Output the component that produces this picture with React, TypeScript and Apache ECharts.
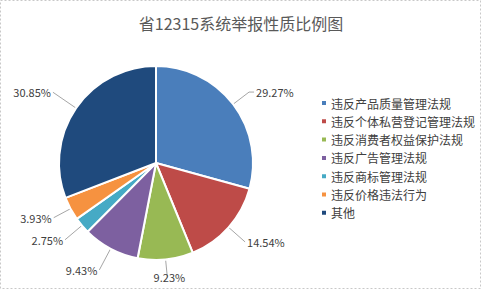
import React, { useEffect, useRef } from "react";
import * as echarts from "echarts";

const categories = [
  "违反产品质量管理法规",
  "违反个体私营登记管理法规",
  "违反消费者权益保护法规",
  "违反广告管理法规",
  "违反商标管理法规",
  "违反价格违法行为",
  "其他",
];
const values = [29.27, 14.54, 9.23, 9.43, 2.75, 3.93, 30.85];
const colors = ["#4A7EBB", "#BE4B48", "#98B954", "#7D60A0", "#46AAC5", "#F69240", "#1F4A7D"];
const title = "省12315系统举报性质比例图";

// leader-line lengths (styling)
const lineLen1 = [20, 22, 18, 24, 22, 19, 28];
const lineLen2 = [5, 0, 0, 0, 0, 0, 0];

export default function App() {
  const ref = useRef<HTMLDivElement>(null);
  useEffect(() => {
    if (!ref.current) return;
    const chart = echarts.init(ref.current, null, { renderer: "svg" });
    const font = "'Noto Sans CJK SC', 'Noto Sans', sans-serif";
    chart.setOption({
      animation: false,
      backgroundColor: "#ffffff",
      title: {
        text: title,
        left: "center",
        top: 10,
        textStyle: { fontSize: 16, fontWeight: "normal", color: "#595959", fontFamily: font },
      },
      legend: {
        orient: "vertical",
        left: 315,
        top: 92,
        itemWidth: 6,
        itemHeight: 6,
        itemGap: 6.3,
        icon: "rect",
        textStyle: { fontSize: 12, color: "#404040", fontFamily: font, padding: [0, 0, 0, -1] },
        data: categories,
      },
      graphic: [
        {
          type: "rect",
          shape: { x: 0.5, y: 0.5, width: 480, height: 288 },
          style: { fill: "none", stroke: "#c8c8c8", lineWidth: 1, lineDash: [2, 2] },
          silent: true,
        },
      ],
      series: [
        {
          type: "pie",
          center: [156, 163],
          radius: ["0%", 97],
          startAngle: 90,
          clockwise: true,
          avoidLabelOverlap: true,
          itemStyle: { borderColor: "#ffffff", borderWidth: 2 },
          label: {
            show: true,
            position: "outside",
            formatter: (p: any) => p.value.toFixed(2) + "%",
            fontSize: 11,
            color: "#404040",
            fontFamily: font,
            distanceToLabelLine: 2,
          },
          labelLayout: (p: any) => (p.dataIndex === 2 ? { align: "center" } : {}),
          labelLine: { show: true, length: 14, length2: 5, lineStyle: { color: "#a6a6a6", width: 1 } },
          data: categories.map((name, i) => ({
            name,
            value: values[i],
            itemStyle: { color: colors[i] },
            labelLine: { length: lineLen1[i], length2: lineLen2[i] },
          })),
        },
      ],
    });
    return () => chart.dispose();
  }, []);
  return (
    <div
      ref={ref}
      style={{ position: "fixed", left: 0, top: 0, width: 482, height: 290 }}
    />
  );
}
